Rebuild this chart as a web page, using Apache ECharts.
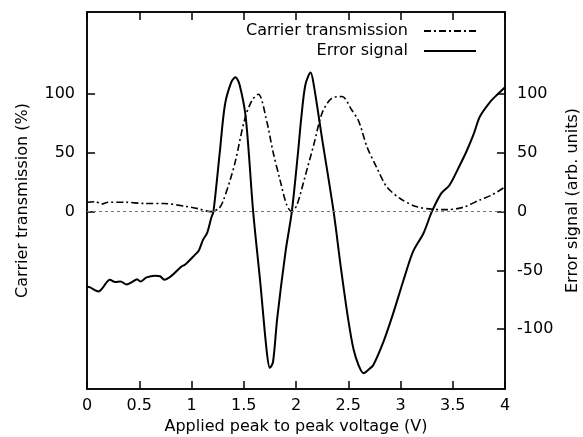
<!DOCTYPE html>
<html>
<head>
<meta charset="utf-8">
<script src="https://cdn.jsdelivr.net/npm/echarts@6/dist/echarts.min.js"></script>
<style>
html,body{margin:0;padding:0;background:#fff;}
#main{width:583px;height:437px;}
</style>
</head>
<body>
<div id="main"></div>
<script>
// carrier transmission (%) vs applied voltage (V)
var carrierV = [0.0, 0.08, 0.14, 0.2, 0.36, 0.55, 0.73, 0.94, 1.06, 1.18, 1.26, 1.30, 1.37, 1.42, 1.51, 1.58, 1.64, 1.72, 1.78, 1.85, 1.91, 1.96, 2.01, 2.09, 2.17, 2.25, 2.34, 2.44, 2.53, 2.60, 2.68, 2.77, 2.87, 3.0, 3.15, 3.31, 3.44, 3.60, 3.76, 3.87, 4.0];
var carrierT = [8, 8.5, 6.5, 8, 8, 7, 7, 4.5, 2.6, 0, 2.6, 8.5, 27, 43, 79, 95, 100, 77, 51, 26, 6, 0, 6, 31, 57, 84, 96.5, 98, 87, 77, 55, 38, 21, 11, 4.3, 2, 1.7, 3.7, 10, 14, 21];

// error signal (arb. units)
var errorV = [0.0, 0.03, 0.08, 0.11, 0.14, 0.22, 0.27, 0.32, 0.38, 0.43, 0.48, 0.51, 0.57, 0.65, 0.70, 0.74, 0.81, 0.90, 0.94, 1.03, 1.07, 1.11, 1.15, 1.19, 1.21, 1.27, 1.32, 1.38, 1.42, 1.46, 1.52, 1.59, 1.66, 1.72, 1.75, 1.78, 1.82, 1.90, 1.96, 2.02, 2.05, 2.09, 2.14, 2.17, 2.25, 2.36, 2.43, 2.50, 2.55, 2.60, 2.645, 2.70, 2.74, 2.84, 2.93, 3.03, 3.12, 3.22, 3.30, 3.39, 3.47, 3.57, 3.63, 3.70, 3.76, 3.86, 3.93, 4.0];
var errorS = [-64, -64.5, -67, -68, -66, -58, -60, -59.5, -62, -60, -57.5, -59.5, -56, -54.5, -55, -58, -54.5, -47, -45, -37, -33, -24, -18, -5, 0, 50, 91, 110, 114.5, 108, 79.5, 0, -62, -119, -133, -128, -91, -34, 0, 51, 79.5, 108, 118.5, 108, 62, 0, -48, -92, -117, -131, -137.5, -134, -130.6, -110, -86.6, -58, -34, -18.4, 0, 15.6, 22.7, 40, 51, 66, 81, 93.7, 100, 106];

var leftTicks = [0, 50, 100];
var rightTicks = [-100, -50, 0, 50, 100];

function pairs(xs, ys) {
	return xs.map(function(x, i) { return [x, ys[i]]; });
}

var font = 'DejaVu Sans';
var myChart = echarts.init(document.getElementById('main'));

var option = {
	animation: false,
	textStyle: { fontFamily: font, color: '#000' },
	grid: {
		left: 87, right: 78, top: 12, bottom: 48, outerBoundsMode: 'none',
		show: true, borderColor: '#000', borderWidth: 1.5, backgroundColor: 'transparent'
	},
	legend: {
		orient: 'vertical',
		right: 101,
		top: 18,
		align: 'right',
		itemWidth: 52,
		itemHeight: 16,
		itemGap: 4,
		itemStyle: { opacity: 0 },
		textStyle: { fontFamily: font, fontSize: 16, color: '#000', padding: [0, 11, 0, 0] },
		data: ['Carrier transmission', 'Error signal']
	},
	xAxis: [{
		type: 'value', min: 0, max: 4, interval: 0.5,
		position: 'bottom',
		name: 'Applied peak to peak voltage (V)',
		nameLocation: 'middle', nameGap: 30,
		nameTextStyle: { fontFamily: font, fontSize: 16, color: '#000' },
		axisLine: { show: true, onZero: false, lineStyle: { color: '#000', width: 1.5 } },
		axisTick: { show: true, inside: true, length: 8, lineStyle: { color: '#000', width: 1.5 } },
		axisLabel: { fontFamily: font, fontSize: 16, color: '#000', margin: 9 },
		splitLine: { show: false }
	}, {
		type: 'value', min: 0, max: 4, interval: 0.5,
		position: 'top',
		axisLine: { show: true, onZero: false, lineStyle: { color: '#000', width: 1.5 } },
		axisTick: { show: true, inside: true, length: 8, lineStyle: { color: '#000', width: 1.5 } },
		axisLabel: { show: false },
		splitLine: { show: false }
	}],
	yAxis: [{
		type: 'value', min: -151, max: 170,
		position: 'left',
		name: 'Carrier transmission (%)',
		nameLocation: 'middle', nameGap: 56, nameRotate: 90,
		nameTextStyle: { fontFamily: font, fontSize: 16, color: '#000' },
		axisLine: { show: true, onZero: false, lineStyle: { color: '#000', width: 1.5 } },
		axisTick: { show: true, inside: true, length: 8, customValues: leftTicks, lineStyle: { color: '#000', width: 1.5 } },
		axisLabel: { fontFamily: font, fontSize: 16, color: '#000', margin: 12, customValues: leftTicks },
		splitLine: { show: false }
	}, {
		type: 'value', min: -151, max: 170,
		position: 'right',
		name: 'Error signal (arb. units)',
		nameLocation: 'middle', nameGap: 60, nameRotate: 90,
		nameTextStyle: { fontFamily: font, fontSize: 16, color: '#000' },
		axisLine: { show: true, onZero: false, lineStyle: { color: '#000', width: 1.5 } },
		axisTick: { show: true, inside: true, length: 8, customValues: rightTicks, lineStyle: { color: '#000', width: 1.5 } },
		axisLabel: { fontFamily: font, fontSize: 16, color: '#000', margin: 12, customValues: rightTicks },
		splitLine: { show: false }
	}],
	series: [{
		name: 'Carrier transmission',
		type: 'line',
		xAxisIndex: 0, yAxisIndex: 0,
		symbol: 'none',
		smooth: 0.3,
		color: '#000',
		lineStyle: { color: '#000', width: 1.6, type: [7, 3, 2, 3] },
		data: pairs(carrierV, carrierT),
		// dotted zero line
		markLine: {
			silent: true,
			symbol: 'none',
			label: { show: false },
			lineStyle: { color: '#777', width: 1, type: [3, 3] },
			data: [{ yAxis: 0 }]
		},
		z: 3
	}, {
		name: 'Error signal',
		type: 'line',
		xAxisIndex: 1, yAxisIndex: 1,
		symbol: 'none',
		smooth: 0.3,
		color: '#000',
		lineStyle: { color: '#000', width: 2 },
		data: pairs(errorV, errorS),
		z: 4
	}]
};
myChart.setOption(option);
</script>
</body>
</html>
